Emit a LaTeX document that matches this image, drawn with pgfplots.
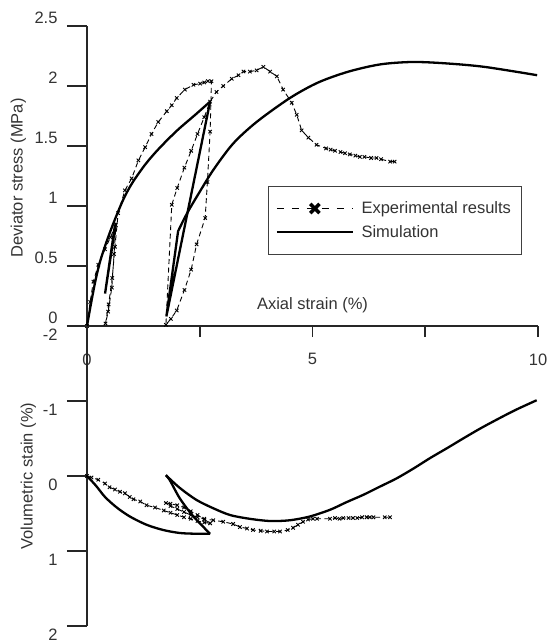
\documentclass[border=0pt]{standalone}
\usepackage{fontspec}
\setmainfont{Liberation Sans}
\usepackage{pgfplots}
\pgfplotsset{compat=1.18}

\newcommand\fs{\fontsize{16.5bp}{19bp}\selectfont}
\colorlet{ink}{black!80}

\pgfplotsset{
  panel/.style={
    scale only axis, width=451bp, height=300bp,
    xmin=0, xmax=10, clip=false,
    axis line style={line width=1.6bp, black!85},
    tick style={line width=1.6bp, black!85},
    major tick length=20bp,
    every tick label/.append style={font=\fs, text=ink},
    /pgf/number format/assume math mode=true,
    label style={font=\fs, text=ink},
  },
  exp/.style={black, line width=0.9bp, dash pattern=on 5bp off 3.5bp,
    mark=x, mark size=2.4bp, mark options={solid, line width=0.9bp}},
  sim/.style={black, line width=2.3bp, no marks},
  explegend/.style={legend image code/.code={
    \draw[black, line width=1.6bp, dash pattern=on 7bp off 8bp] (0bp,0bp) -- (76bp,0bp);
    \draw[black, line width=3.5bp] plot[mark=x, mark size=6.5bp] coordinates {(38bp,0bp)};}},
  simlegend/.style={legend image code/.code={
    \draw[black, line width=2.3bp] (0bp,0bp) -- (76bp,0bp);}},
}

\begin{document}
\begin{tikzpicture}
\useasboundingbox (-87bp,-318bp) rectangle (461bp,326bp);

% deviator stress
\begin{axis}[panel, at={(0,0)}, anchor=south west,
  ymin=0, ymax=2.5,
  axis x line*=bottom, axis y line*=left, tick align=outside,
  xtick={0,2.5,5,7.5,10}, xticklabels={0,,5,,10},
  xtick style={/pgfplots/major tick length=11bp},
  xticklabel style={yshift=-4bp},
  ytick={0,0.5,1,1.5,2,2.5}, yticklabels={0,0.5,1,1.5,2,2.5},
  yticklabel style={anchor=east, xshift=-6bp, yshift=8.5bp},
  ylabel={Deviator stress  (MPa)},
  ylabel style={at={(axis description cs:-0.152,0.493)}, anchor=center},
  legend style={at={(0.401,0.467)}, anchor=north west, draw=black!75,
    line width=0.8bp, font=\fs, text=ink, inner xsep=7.5bp, inner ysep=13bp,
    row sep=5bp, column sep=5bp, nodes={inner sep=2.5bp}},
  legend cell align=left,
]
\addplot[exp, forget plot] coordinates {
(0,0) (0.07,0.2) (0.14,0.37) (0.25,0.51) (0.4,0.64) (0.52,0.74) (0.64,0.84)
(0.6,0.6) (0.55,0.32) (0.47,0.12) (0.41,0.02)
(0.48,0.18) (0.56,0.4) (0.62,0.66) (0.69,0.94)
(0.84,1.13) (0.99,1.23) (1.14,1.38) (1.29,1.49) (1.43,1.6) (1.58,1.7) (1.77,1.79)
(1.88,1.84) (1.99,1.9) (2.17,1.97) (2.36,2.01) (2.51,2.02) (2.6,2.03) (2.68,2.04) (2.76,2.04)
(2.73,1.62) (2.67,1.2) (2.62,0.9) (2.43,0.68) (2.31,0.47) (2.16,0.3) (1.99,0.13) (1.86,0.06) (1.75,0.01)
(1.88,1.01) (2.0,1.15) (2.16,1.32) (2.31,1.46) (2.45,1.6) (2.6,1.74) (2.73,1.87)
(2.87,1.95) (3.02,2.0) (3.21,2.06) (3.36,2.09) (3.47,2.12) (3.61,2.12) (3.76,2.13) (3.91,2.16)
(4.06,2.12) (4.21,2.08) (4.35,1.97) (4.54,1.86) (4.65,1.76) (4.76,1.63) (4.91,1.57) (5.09,1.51)
(5.3,1.48) (5.4,1.47) (5.5,1.46) (5.62,1.45) (5.72,1.44) (5.83,1.43) (5.95,1.42) (6.05,1.41)
(6.15,1.41) (6.3,1.4) (6.42,1.4) (6.52,1.39) (6.72,1.37) (6.82,1.37)
};
% simulation: first loading
\addplot[sim, smooth, forget plot] coordinates {
(0,0) (0.1,0.21) (0.2,0.4) (0.3,0.55) (0.45,0.72) (0.6,0.87) (0.8,1.05) (1.0,1.19)
(1.3,1.35) (1.6,1.48) (2.0,1.63) (2.4,1.76) (2.73,1.87)
};
% small unloading-reloading
\addplot[sim, forget plot] coordinates {(0.64,0.86) (0.4,0.27) (0.62,0.84)};
% unloading
\addplot[sim, forget plot] coordinates {(2.73,1.87) (1.76,0.08) (2.02,0.79)};
% reloading
\addplot[sim, smooth, forget plot] coordinates {
(2.02,0.79) (2.15,0.89) (2.28,0.98) (2.47,1.1) (2.8,1.3) (3.24,1.52) (3.76,1.7)
(4.5,1.9) (5.13,2.03) (5.8,2.12) (6.5,2.18) (7.2,2.2) (7.9,2.19) (8.8,2.16) (9.98,2.09)
};
\addlegendimage{explegend}
\addlegendentry{Experimental results}
\addlegendimage{simlegend}
\addlegendentry{Simulation}
\node[font=\fs, text=ink] at (axis cs:5,0.175) {Axial strain (\%)};
\end{axis}

% volumetric strain
\begin{axis}[panel, at={(0,0)}, anchor=north west,
  ymin=-2, ymax=2, y dir=reverse,
  axis x line=none, axis y line*=left, tick align=outside,
  ytick={-2,-1,0,1,2}, yticklabels={-2,-1,0,1,2},
  yticklabel style={anchor=east, xshift=-6bp, yshift=-9bp},
  ylabel={Volumetric stain (\%)},
  ylabel style={at={(axis description cs:-0.13,0.5)}, anchor=center},
]
\addplot[exp] coordinates {
(0,0) (0.1,0.02) (0.25,0.05) (0.4,0.1) (0.5,0.15) (0.62,0.18) (0.73,0.21) (0.84,0.23)
(0.95,0.28) (1.03,0.31) (1.18,0.34) (1.32,0.39) (1.51,0.42) (1.7,0.46) (1.85,0.49)
(2.0,0.52) (2.15,0.55) (2.3,0.57) (2.45,0.6) (2.6,0.62) (2.73,0.63)
(2.6,0.58) (2.45,0.52) (2.3,0.47) (2.15,0.42) (2.0,0.39) (1.85,0.37) (1.75,0.36)
(1.85,0.4) (2.0,0.44) (2.15,0.48) (2.3,0.52) (2.45,0.55) (2.6,0.57) (2.8,0.59)
(3.02,0.61) (3.24,0.64) (3.39,0.68) (3.55,0.7) (3.68,0.72) (3.85,0.73) (3.99,0.74)
(4.15,0.74) (4.28,0.74) (4.45,0.72) (4.57,0.69) (4.68,0.65) (4.79,0.61) (4.9,0.58)
(5.01,0.57) (5.1,0.57) (5.39,0.57) (5.5,0.56) (5.6,0.57) (5.68,0.56) (5.8,0.56)
(5.9,0.56) (5.99,0.56) (6.1,0.55) (6.2,0.55) (6.27,0.55) (6.35,0.55) (6.6,0.55) (6.72,0.55)
};
\addplot[sim, smooth] coordinates {
(0,0) (0.2,0.13) (0.4,0.28) (0.66,0.42) (0.95,0.54) (1.32,0.65) (1.69,0.72)
(2.06,0.76) (2.43,0.77) (2.73,0.77)
};
\addplot[sim, smooth] coordinates {
(2.73,0.77) (2.36,0.54) (2.06,0.3) (1.84,0.06) (1.75,-0.01)
};
\addplot[sim, smooth] coordinates {
(1.75,-0.01) (2.06,0.16) (2.43,0.32) (2.8,0.43) (3.17,0.52) (3.6,0.57) (4.06,0.6)
(4.5,0.59) (4.94,0.54) (5.39,0.45) (5.75,0.35) (6.13,0.25) (6.5,0.14) (6.87,0.03)
(7.24,-0.1) (7.61,-0.24) (7.98,-0.37) (8.34,-0.5) (8.71,-0.63) (9.08,-0.75)
(9.5,-0.88) (9.97,-1.01)
};
\end{axis}
\end{tikzpicture}
\end{document}
